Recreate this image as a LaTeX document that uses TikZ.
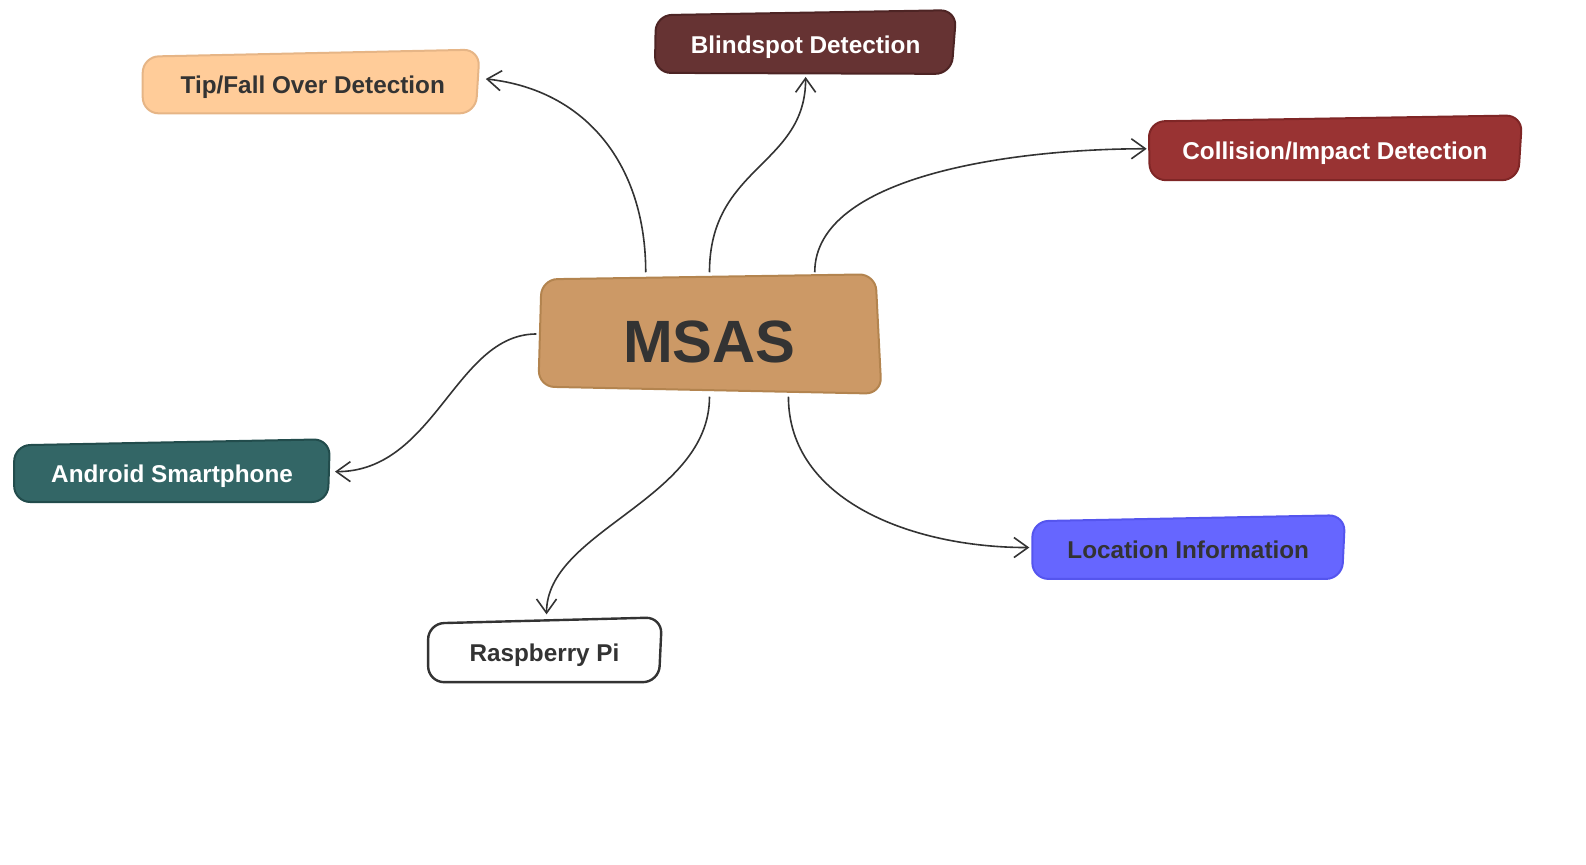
\documentclass[tikz,border=0pt]{standalone}
\usepackage{fontspec}
\setmainfont{Liberation Sans}
\usetikzlibrary{arrows.meta}
\definecolor{ink}{HTML}{333333}
\definecolor{msasfill}{HTML}{CC9966}
\definecolor{msasdraw}{HTML}{B3844F}
\definecolor{tipfill}{HTML}{FFCC99}
\definecolor{tipdraw}{HTML}{E6B586}
\definecolor{blindfill}{HTML}{663333}
\definecolor{blinddraw}{HTML}{4D2424}
\definecolor{collfill}{HTML}{993333}
\definecolor{colldraw}{HTML}{7F2626}
\definecolor{andrfill}{HTML}{336666}
\definecolor{andrdraw}{HTML}{224C4C}
\definecolor{locfill}{HTML}{6666FF}
\definecolor{locdraw}{HTML}{5555EE}
\tikzset{
  boxshape/.style={line width=2pt, rounded corners=16pt},
  boxlabel/.style={font=\fontsize{24.3}{28}\selectfont\bfseries, inner sep=0pt},
  conn/.style={draw=ink, line width=1.6pt, -{Straight Barb[length=14pt,width=20pt,line width=1.6pt]}}
}
\begin{document}
\begin{tikzpicture}[x=1.0121pt,y=1.0121pt]
\useasboundingbox (0pt,0pt) rectangle (1586pt,864pt);
\begin{scope}[yshift=-10.46pt]
% boxes
\draw[boxshape, fill=msasfill, draw=msasdraw] (535,588) -- (865,593) -- (871,475) -- (532,482) -- cycle;
\draw[boxshape, fill=tipfill, draw=tipdraw] (141,808) -- (474,815) -- (470,752) -- (141,752) -- cycle;
\draw[boxshape, fill=blindfill, draw=blinddraw] (648,849) -- (945,854) -- (940,791) -- (647,792) -- cycle;
\draw[boxshape, fill=collfill, draw=colldraw] (1135,744) -- (1504,750) -- (1500,686) -- (1136,686) -- cycle;
\draw[boxshape, fill=andrfill, draw=andrdraw] (14,424) -- (326,430) -- (324,368) -- (14,368) -- cycle;
\draw[boxshape, line width=2.4pt, fill=white, draw=ink] (423,248) -- (654,254) -- (651,190) -- (423,190) -- cycle;
\draw[boxshape, fill=locfill, draw=locdraw] (1020,349) -- (1329,355) -- (1326,292) -- (1020,292) -- cycle;
% labels
\node[inner sep=0pt, text=ink, font=\fontsize{59.7}{64}\selectfont\bfseries] (msas) at (701,526) {MSAS};
\node[boxlabel, text=ink] (tip) at (309,778) {Tip/Fall Over Detection};
\node[boxlabel, text=white] (blind) at (796,817) {Blindspot Detection};
\node[boxlabel, text=white] (coll) at (1319,713) {Collision/Impact Detection};
\node[boxlabel, text=white] (andr) at (170,393) {Android Smartphone};
\node[boxlabel, text=ink] (rasp) at (538,217) {Raspberry Pi};
\node[boxlabel, text=ink] (loc) at (1174,321) {Location Information};
% connector end points
\coordinate (m1) at (638,595);
\coordinate (m2) at (701,595);
\coordinate (m3) at (805,595);
\coordinate (m4) at (530,534);
\coordinate (m5) at (701,472);
\coordinate (m6) at (779,472);
\coordinate (tipin) at (480,786);
\coordinate (blindin) at (796,788);
\coordinate (collin) at (1133,717);
\coordinate (andrin) at (331,398);
\coordinate (raspin) at (540,257);
\coordinate (locin) at (1017,323);
% connectors
\draw[conn] (m1) .. controls (638,700) and (580,775) .. (tipin);
\draw[conn] (m2) .. controls (701,700) and (796,700) .. (blindin);
\draw[conn] (m3) .. controls (805,690) and (1000,717) .. (collin);
\draw[conn] (m4) .. controls (450,534) and (430,398) .. (andrin);
\draw[conn] (m5) .. controls (701,370) and (540,340) .. (raspin);
\draw[conn] (m6) .. controls (779,370) and (900,323) .. (locin);
\end{scope}
\end{tikzpicture}
\end{document}
